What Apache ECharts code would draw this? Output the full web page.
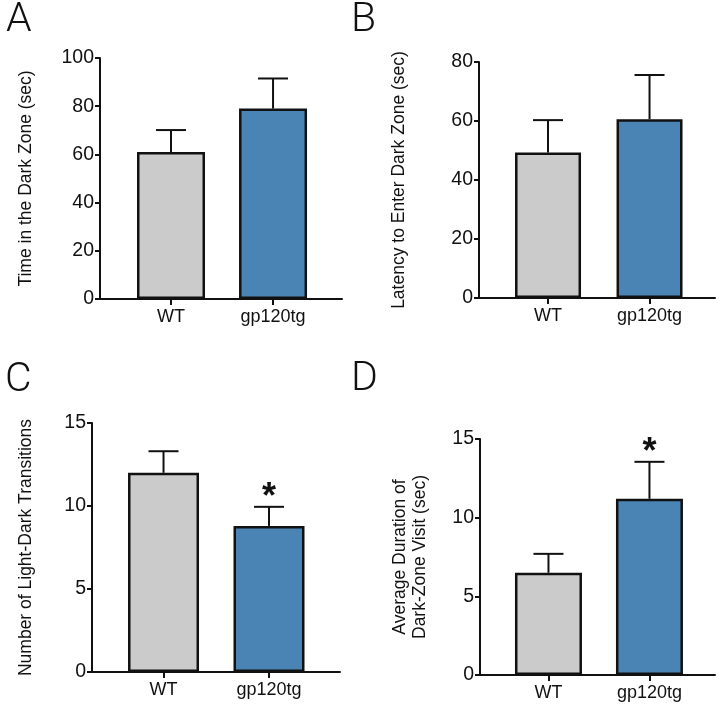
<!DOCTYPE html>
<html>
<head>
<meta charset="utf-8">
<style>
  html, body { margin: 0; padding: 0; background: #fff; }
  #chart { width: 724px; height: 710px; }
</style>
<script src="https://cdn.jsdelivr.net/npm/echarts@6/dist/echarts.min.js"></script>
</head>
<body>
<div id="chart"></div>
<script>
// groups and colours
const groups = ['WT', 'gp120tg'];
const barColors = ['#cbcbcb', '#4a84b4'];

// panel A - time in dark zone
const timeDarkMean = [61, 79];
const timeDarkSem = [9.1, 12.5];
// panel B - latency to enter
const latencyMean = [49.3, 60.6];
const latencySem = [11.0, 15.0];
// panel C - transitions
const transitionsMean = [12.0, 8.8];
const transitionsSem = [1.3, 1.15];
const transitionsSig = ['', '*'];
// panel D - average visit duration
const durationMean = [6.5, 11.2];
const durationSem = [1.2, 2.35];
const durationSig = ['', '*'];

const FONT = "'Liberation Sans', Arial, sans-serif";
const INK = '#111';

const panels = [
  { letter: 'A', name: 'Time in the Dark Zone (sec)', mean: timeDarkMean, sem: timeDarkSem, sig: ['', ''],
    yMax: 100, yStep: 20, grid: { left: 100, top: 58, width: 242, height: 241 },
    xMin: -0.696, xMax: 1.676, barW: 68, nameGap: 64, letterAt: [6, 0] },
  { letter: 'B', name: 'Latency to Enter Dark Zone (sec)', mean: latencyMean, sem: latencySem, sig: ['', ''],
    yMax: 80, yStep: 20, grid: { left: 479, top: 62, width: 236, height: 236 },
    xMin: -0.68, xMax: 1.645, barW: 66, nameGap: 70, letterAt: [351, 0] },
  { letter: 'C', name: 'Number of Light-Dark Transitions', mean: transitionsMean, sem: transitionsSem, sig: transitionsSig,
    yMax: 15, yStep: 5, grid: { left: 92, top: 423, width: 248, height: 249 },
    xMin: -0.678, xMax: 1.673, barW: 71, nameGap: 56, letterAt: [5, 360] },
  { letter: 'D', name: 'Average Duration of\nDark-Zone Visit (sec)', mean: durationMean, sem: durationSem, sig: durationSig,
    yMax: 15, yStep: 5, grid: { left: 480, top: 439, width: 235, height: 236 },
    xMin: -0.678, xMax: 1.649, barW: 67, nameGap: 50, letterAt: [351, 359] }
];

const grid = [], xAxis = [], yAxis = [], series = [], graphic = [];

panels.forEach(function (p, i) {
  grid.push(Object.assign({ containLabel: false }, p.grid));

  xAxis.push({
    type: 'value', gridIndex: i, min: p.xMin, max: p.xMax,
    splitLine: { show: false },
    axisLine: { show: true, onZero: false, lineStyle: { color: INK, width: 2 } },
    axisTick: { show: true, customValues: [0, 1], length: 6, lineStyle: { color: INK, width: 2 } },
    axisLabel: {
      customValues: [0, 1], margin: 9, color: INK, fontFamily: FONT, fontSize: 18,
      formatter: function (v) { return groups[Math.round(v)]; }
    }
  });

  yAxis.push({
    type: 'value', gridIndex: i, min: 0, max: p.yMax, interval: p.yStep,
    name: p.name, nameLocation: 'middle', nameRotate: 90, nameGap: p.nameGap,
    nameTextStyle: { color: INK, fontFamily: FONT, fontSize: 17.5, lineHeight: 20 },
    splitLine: { show: false },
    axisLine: { show: true, onZero: false, lineStyle: { color: INK, width: 2 } },
    axisTick: { show: true, length: 5, lineStyle: { color: INK, width: 2 } },
    axisLabel: { margin: 6, color: INK, fontFamily: FONT, fontSize: 19.5 }
  });

  series.push({
    type: 'bar', xAxisIndex: i, yAxisIndex: i, barWidth: p.barW,
    data: p.mean.map(function (v, k) { return [k, v]; }),
    itemStyle: {
      color: function (params) { return barColors[params.dataIndex]; },
      borderColor: INK, borderWidth: 2.5
    },
    z: 2
  });

  series.push({
    type: 'custom', xAxisIndex: i, yAxisIndex: i, z: 3,
    data: p.mean.map(function (v, k) { return [k, v, v + p.sem[k]]; }),
    renderItem: function (params, api) {
      const k = params.dataIndex;
      const base = api.coord([api.value(0), api.value(1)]);
      const top = api.coord([api.value(0), api.value(2)]);
      const half = 15;
      const children = [
        { type: 'line', shape: { x1: base[0], y1: base[1], x2: top[0], y2: top[1] },
          style: { stroke: INK, lineWidth: 2 } },
        { type: 'line', shape: { x1: top[0] - half, y1: top[1], x2: top[0] + half, y2: top[1] },
          style: { stroke: INK, lineWidth: 2 } }
      ];
      if (p.sig[k]) {
        children.push({
          type: 'text',
          style: { text: p.sig[k], x: top[0], y: top[1] - 9, align: 'center', verticalAlign: 'middle',
                   fill: INK, font: 'bold 36px ' + FONT }
        });
      }
      return { type: 'group', children: children };
    }
  });

  graphic.push({
    type: 'text', left: p.letterAt[0], top: p.letterAt[1],
    style: { text: p.letter, fill: INK, font: '300 41px Roboto, ' + FONT }
  });
});

const chart = echarts.init(document.getElementById('chart'), null, { renderer: 'canvas' });
chart.setOption({
  animation: false,
  backgroundColor: '#fff',
  grid: grid,
  xAxis: xAxis,
  yAxis: yAxis,
  series: series,
  graphic: graphic
});
</script>
</body>
</html>
